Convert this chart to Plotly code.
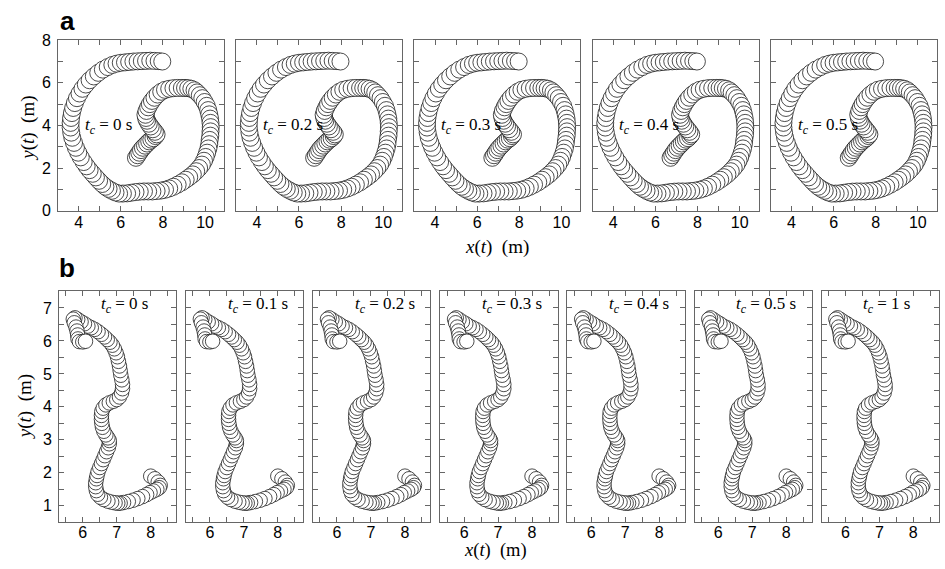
import plotly.graph_objects as go

# ---------------- data ----------------
a_tc = ["0", "0.2", "0.3", "0.4", "0.5"]
b_tc = ["0", "0.1", "0.2", "0.3", "0.4", "0.5", "1"]

# row a trajectory (m)
a_x = [6.72, 6.80, 6.88, 6.96, 7.05, 7.15, 7.25, 7.35, 7.45, 7.55, 7.65, 7.70,
       7.62, 7.52, 7.42, 7.33, 7.25, 7.20, 7.17,
       7.22, 7.30, 7.38, 7.48, 7.60, 7.75, 7.92, 8.10, 8.30, 8.50, 8.70, 8.90,
       9.05, 9.20, 9.35, 9.50, 9.62, 9.75, 9.87, 9.98, 10.08, 10.15, 10.20, 10.24,
       10.26, 10.27, 10.26, 10.25, 10.22, 10.20, 10.16, 10.10, 10.03, 9.95, 9.85,
       9.72, 9.58, 9.42, 9.25, 9.08, 8.90, 8.70, 8.50, 8.30, 8.10, 7.90, 7.70,
       7.50, 7.30, 7.10, 6.90, 6.70, 6.50, 6.30, 6.10, 5.92, 5.75, 5.58, 5.42,
       5.27, 5.12, 4.97, 4.82, 4.67, 4.52, 4.38, 4.24, 4.10, 3.98, 3.87, 3.78,
       3.70, 3.65, 3.62, 3.62, 3.64, 3.68, 3.74, 3.82, 3.92, 4.04, 4.18, 4.34,
       4.52, 4.72, 4.93, 5.15, 5.38, 5.60, 5.80, 6.00, 6.20, 6.40, 6.60, 6.80,
       7.00, 7.20, 7.40, 7.60, 7.80, 7.97]
a_y = [2.48, 2.60, 2.72, 2.84, 2.95, 3.05, 3.15, 3.25, 3.33, 3.40, 3.50, 3.58,
       3.70, 3.82, 3.95, 4.08, 4.22, 4.35, 4.50,
       4.68, 4.85, 5.00, 5.15, 5.30, 5.45, 5.58, 5.67, 5.72, 5.75, 5.76, 5.76,
       5.76, 5.75, 5.72, 5.65, 5.55, 5.42, 5.28, 5.10, 4.92, 4.72, 4.52, 4.32,
       4.12, 3.92, 3.72, 3.52, 3.32, 3.12, 2.92, 2.72, 2.52, 2.34, 2.16,
       2.00, 1.85, 1.70, 1.57, 1.45, 1.33, 1.22, 1.12, 1.04, 0.98, 0.94, 0.92,
       0.90, 0.90, 0.90, 0.89, 0.87, 0.84, 0.81, 0.80, 0.80, 0.85, 0.93, 1.02,
       1.12, 1.25, 1.40, 1.56, 1.73, 1.90, 2.08, 2.28, 2.50, 2.72, 2.95, 3.18,
       3.42, 3.66, 3.90, 4.12, 4.35, 4.58, 4.82, 5.05, 5.28, 5.50, 5.72, 5.92,
       6.12, 6.30, 6.47, 6.62, 6.74, 6.84, 6.90, 6.94, 6.96, 6.98, 7.00, 7.01,
       7.02, 7.03, 7.04, 7.03, 7.02, 7.00]

# row b trajectory (m)
b_x = [8.00, 8.12, 8.22, 8.28, 8.25, 8.18, 8.08, 7.98, 7.88, 7.76, 7.62, 7.48,
       7.34, 7.20, 7.10, 7.03, 6.95, 6.85, 6.74, 6.62, 6.52, 6.44, 6.40, 6.38,
       6.38, 6.40, 6.42, 6.45, 6.50, 6.55, 6.60, 6.65, 6.70, 6.75, 6.78, 6.78,
       6.74, 6.68, 6.62, 6.58, 6.56, 6.55, 6.55, 6.56, 6.60, 6.68, 6.78, 6.90,
       7.00, 7.08, 7.14, 7.17, 7.17, 7.15, 7.12, 7.10, 7.08, 7.05, 7.02, 6.98,
       6.93, 6.87, 6.80, 6.72, 6.64, 6.55, 6.45, 6.35, 6.25, 6.15, 6.05, 5.95,
       5.85, 5.77, 5.72, 5.75, 5.80, 5.83, 5.85, 5.86, 5.90, 6.00, 6.08]
b_y = [1.90, 1.82, 1.72, 1.62, 1.55, 1.50, 1.45, 1.40, 1.34, 1.28, 1.22, 1.17,
       1.13, 1.10, 1.08, 1.08, 1.09, 1.11, 1.14, 1.19, 1.26, 1.35, 1.46, 1.58,
       1.70, 1.82, 1.92, 2.04, 2.16, 2.28, 2.40, 2.52, 2.64, 2.76, 2.88, 2.98,
       3.06, 3.15, 3.26, 3.38, 3.50, 3.62, 3.74, 3.86, 3.96, 4.06, 4.12, 4.17,
       4.22, 4.30, 4.42, 4.55, 4.68, 4.82, 4.96, 5.10, 5.24, 5.38, 5.52, 5.64,
       5.76, 5.87, 5.96, 6.04, 6.12, 6.20, 6.28, 6.35, 6.40, 6.45, 6.52, 6.58,
       6.65, 6.70, 6.66, 6.55, 6.42, 6.30, 6.18, 6.06, 5.98, 5.97, 5.99]

# ticks (labelled major ticks + unlabelled minor ticks)
a_xmajor = [4, 6, 8, 10]
a_xminor = [5, 7, 9]
a_ymajor = [0, 2, 4, 6, 8]
a_yminor = [1, 3, 5, 7]
b_xmajor = [6, 7, 8]
b_xminor = [5.5, 6.5, 7.5, 8.5]
b_ymajor = [1, 2, 3, 4, 5, 6, 7]
b_yminor = [0.5, 1.5, 2.5, 3.5, 4.5, 5.5, 6.5, 7.5]

# ---------------- figure ----------------
W, H = 945, 569
SANS = "Liberation Sans"
SERIF = "Liberation Serif"
FRAME = "#666666"

fig = go.Figure()
layout = {}
annotations = []


def fx(p):
    return p / W


def fy(p):
    # vertical pixel position (from top) -> paper fraction, with a small
    # correction for the vertical squeeze observed in the rendered photo
    q = (p - 7.0) / 0.972
    return 1 - q / H


def axis_common(major, minor):
    return dict(showline=True, mirror="ticks", linecolor=FRAME, linewidth=1,
                ticks="inside", ticklen=5, tickcolor=FRAME, tickwidth=1,
                showgrid=False, zeroline=False, fixedrange=True,
                tickmode="array", tickvals=major, ticktext=[f"{v:g}" for v in major],
                minor=dict(tickmode="array", tickvals=minor, ticks="inside",
                           ticklen=5, tickcolor=FRAME, tickwidth=1, showgrid=False),
                tickfont=dict(family=SANS, size=16, color="black"))


k = 0
# row a
for i, tc in enumerate(a_tc):
    k += 1
    xa = "x" if k == 1 else f"x{k}"
    ya = "y" if k == 1 else f"y{k}"
    fig.add_trace(go.Scatter(
        x=a_x, y=a_y, mode="markers", xaxis=xa, yaxis=ya, showlegend=False,
        hoverinfo="skip",
        marker=dict(size=17, color="white", line=dict(color="black", width=0.7))))
    left = 58 + i * 178.2
    right = left + 166
    xd = axis_common(a_xmajor, a_xminor)
    xd.update(domain=[fx(left), fx(right)], range=[3.02, 10.9], anchor=ya,
              ticklabelstandoff=-3)
    yd = axis_common(a_ymajor, a_yminor)
    yd.update(domain=[fy(210), fy(39.3)], range=[0, 8], anchor=xa,
              showticklabels=(i == 0), ticklabelstandoff=3)
    layout["xaxis" if k == 1 else f"xaxis{k}"] = xd
    layout["yaxis" if k == 1 else f"yaxis{k}"] = yd
    annotations.append(dict(
        x=4.2, y=3.95, xref=xa, yref=ya, xanchor="left", yanchor="middle",
        text=f"<i>t</i><sub><i>c</i></sub> = {tc} s", showarrow=False,
        font=dict(family=SERIF, size=17, color="black")))

# row b
for i, tc in enumerate(b_tc):
    k += 1
    xa = f"x{k}"
    ya = f"y{k}"
    fig.add_trace(go.Scatter(
        x=b_x, y=b_y, mode="markers", xaxis=xa, yaxis=ya, showlegend=False,
        hoverinfo="skip",
        marker=dict(size=14.5, color="white", line=dict(color="black", width=0.7))))
    left = 59 + i * 127.1
    right = left + 117.2
    xd = axis_common(b_xmajor, b_xminor)
    xd.update(domain=[fx(left), fx(right)], range=[5.3, 8.75], anchor=ya,
              ticklabelstandoff=-5)
    yd = axis_common(b_ymajor, b_yminor)
    yd.update(domain=[fy(522.3), fy(291)], range=[0.5, 7.5], anchor=xa,
              showticklabels=(i == 0), ticklabelstandoff=3)
    layout[f"xaxis{k}"] = xd
    layout[f"yaxis{k}"] = yd
    annotations.append(dict(
        x=6.47, y=7.1, xref=xa, yref=ya, xanchor="left", yanchor="middle",
        text=f"<i>t</i><sub><i>c</i></sub> = {tc} s", showarrow=False,
        font=dict(family=SERIF, size=17, color="black")))

# axis titles and panel letters
xtitle = "<i>x</i>(<i>t</i>)\u00a0\u00a0(m)"
ytitle = "<i>y</i>(<i>t</i>)\u00a0\u00a0(m)"
for (px, py, txt, ang, fs) in [(496.5, 246.5, xtitle, 0, 19),
                               (496, 551, xtitle, 0, 18.5),
                               (28, 128, ytitle, -90, 19),
                               (25, 407, ytitle, -90, 19)]:
    annotations.append(dict(x=fx(px), y=fy(py), xref="paper", yref="paper",
                            xanchor="center", yanchor="middle", text=txt,
                            textangle=ang, showarrow=False,
                            font=dict(family=SERIF, size=fs, color="black")))
for (px, py, txt) in [(67, 20.5, "<b>a</b>"), (67, 267.5, "<b>b</b>")]:
    annotations.append(dict(x=fx(px), y=fy(py), xref="paper", yref="paper",
                            xanchor="center", yanchor="middle", text=txt,
                            showarrow=False,
                            font=dict(family=SANS, size=26, color="black")))

fig.update_layout(**layout)
fig.update_layout(width=W, height=H, margin=dict(l=0, r=0, t=0, b=0),
                  paper_bgcolor="white", plot_bgcolor="white",
                  annotations=annotations, showlegend=False)

fig.write_html(
    "out.html", config={"displayModeBar": False},
    post_script=("var d=document.getElementById('{plot_id}');"
                 "d.style.position='fixed';d.style.top='0px';d.style.left='0px';"
                 "document.documentElement.style.margin='0px';"
                 "document.body.style.margin='0px';"
                 "document.body.style.overflow='hidden';"))
